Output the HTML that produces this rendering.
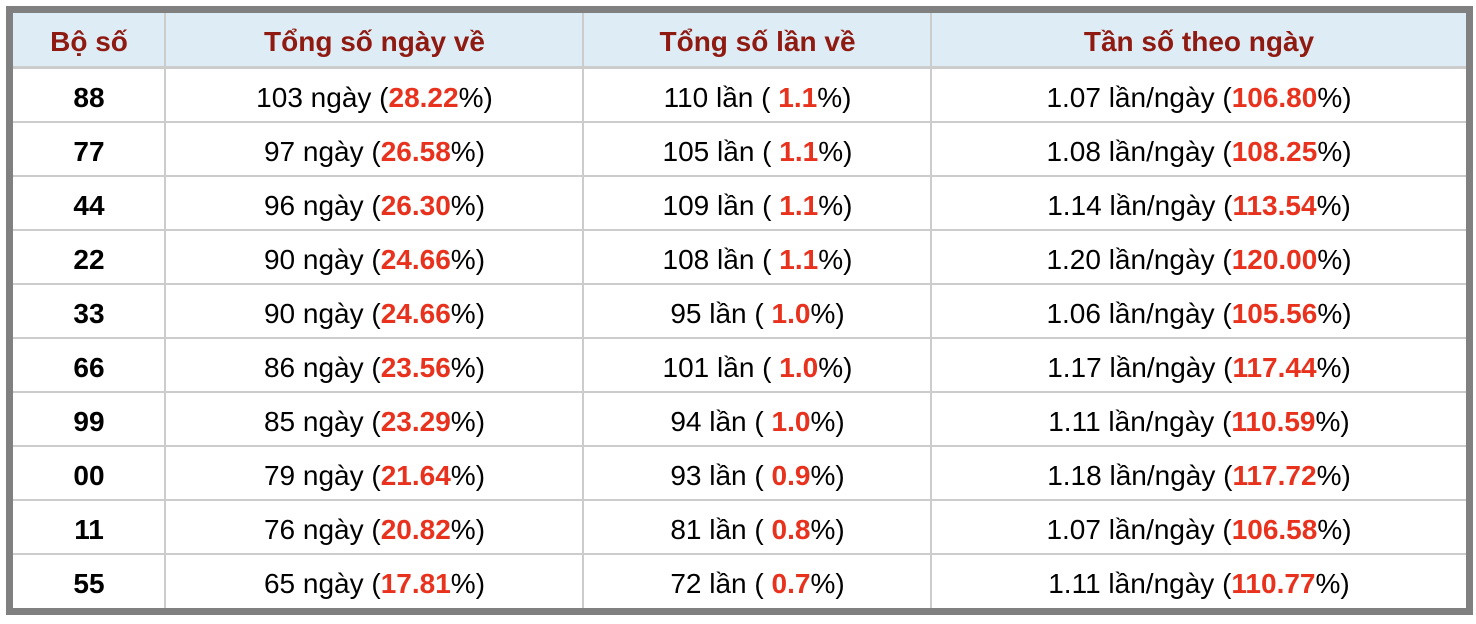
<!DOCTYPE html>
<html><head><meta charset="utf-8"><style>
body{margin:0;background:#fff;width:1476px;height:624px;overflow:hidden;font-family:"Liberation Sans",Arial,sans-serif;}
.box{position:absolute;left:6px;top:6px;width:1453px;height:595px;border:7px solid #808080;background:#fff;}
.hd{position:absolute;left:0;top:0;width:1453px;height:53px;background:#deedf5;}
.c{position:absolute;text-align:center;font-size:28px;line-height:32px;color:#000;white-space:nowrap;}
.h{font-weight:bold;color:#8e1a12;}
.r{color:#e8321e;font-weight:bold;}
.b{font-weight:bold;}
.hl{position:absolute;left:0;width:1453px;background:#cccccc;}
.vl{position:absolute;top:0;width:2px;height:595px;background:#cccccc;}
</style></head><body>
<div class="box">
<div class="hd"></div>
<div class="hl" style="top:53px;height:3px"></div>
<div class="hl" style="top:108px;height:2px"></div>
<div class="hl" style="top:162px;height:2px"></div>
<div class="hl" style="top:216px;height:2px"></div>
<div class="hl" style="top:270px;height:2px"></div>
<div class="hl" style="top:324px;height:2px"></div>
<div class="hl" style="top:378px;height:2px"></div>
<div class="hl" style="top:432px;height:2px"></div>
<div class="hl" style="top:486px;height:2px"></div>
<div class="hl" style="top:540px;height:2px"></div>
<div class="vl" style="left:151px"></div>
<div class="vl" style="left:569px"></div>
<div class="vl" style="left:917px"></div>
<div id="t"></div>
</div>
<script>
var cols=[[0,152],[153,417],[571,347],[919,534]];
var rows=[["88","103","28.22","110","1.1","1.07","106.80"],["77","97","26.58","105","1.1","1.08","108.25"],["44","96","26.30","109","1.1","1.14","113.54"],["22","90","24.66","108","1.1","1.20","120.00"],["33","90","24.66","95","1.0","1.06","105.56"],["66","86","23.56","101","1.0","1.17","117.44"],["99","85","23.29","94","1.0","1.11","110.59"],["00","79","21.64","93","0.9","1.18","117.72"],["11","76","20.82","81","0.8","1.07","106.58"],["55","65","17.81","72","0.7","1.11","110.77"]];
var h="";
function cell(i,top,txt,cls){h+='<div class="c '+(cls||'')+'" style="left:'+cols[i][0]+'px;width:'+cols[i][1]+'px;top:'+top+'px">'+txt+'</div>';}
var hs=["Bộ số","Tổng số ngày về","Tần số theo ngày"];
hs=["Bộ số","Tổng số ngày về","Tổng số lần về","Tần số theo ngày"];
for(var i=0;i<4;i++)cell(i,13,hs[i],"h");
rows.forEach(function(r,k){var y=69+k*54;
cell(0,y,r[0],"b");
cell(1,y,r[1]+' ngày (<span class="r">'+r[2]+'</span>%)');
cell(2,y,r[3]+' lần ( <span class="r">'+r[4]+'</span>%)');
cell(3,y,r[5]+' lần/ngày (<span class="r">'+r[6]+'</span>%)');});
document.getElementById("t").innerHTML=h;
</script>
</body></html>
